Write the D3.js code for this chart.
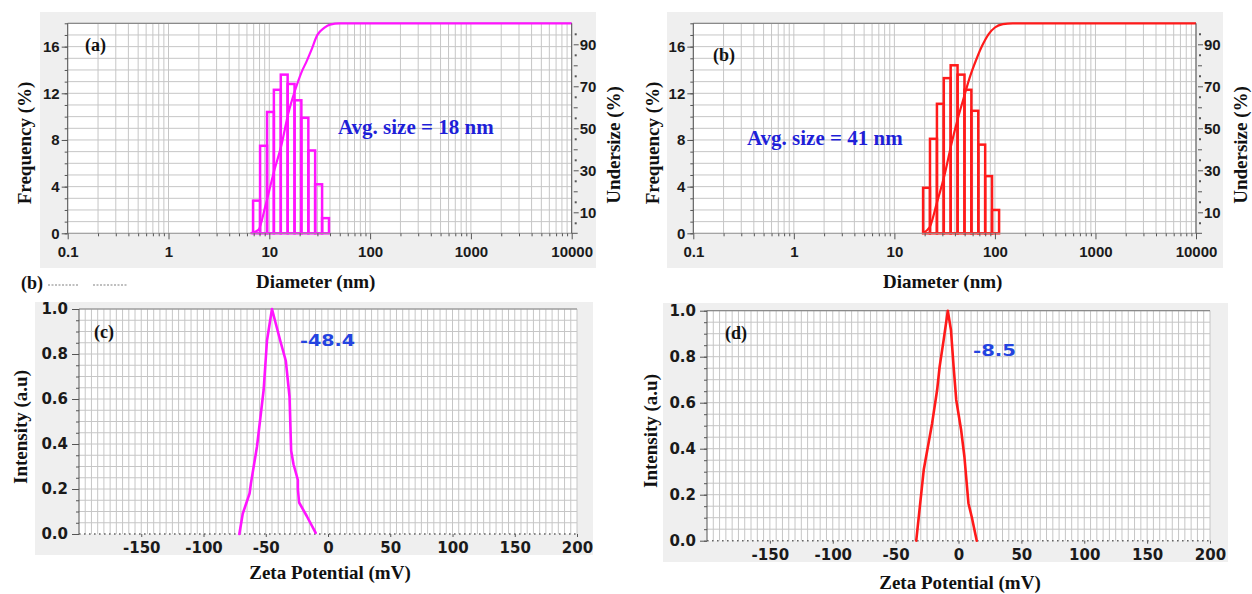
<!DOCTYPE html>
<html>
<head>
<meta charset="utf-8">
<script src="https://cdn.jsdelivr.net/npm/d3@7"></script>
<style>
  body { margin: 0; background: #fff; }
  svg { display: block; }
</style>
</head>
<body>
<svg id="chart" width="1252" height="594"></svg>
<script>
// ---------- Particle size distribution (a) ----------
const binEdgesA = [6.9, 8.1, 9.5, 11.1, 13.0, 15.2, 17.8, 20.8, 24.4, 28.5, 33.4, 39.1];   // nm
const frequencyA = [2.8, 7.5, 10.4, 12.3, 13.6, 12.8, 11.4, 9.9, 7.1, 4.2, 1.3];          // %
const undersizeDiamA = [6.5, 7.8, 9.1, 11.0, 13.3, 15.4, 18.0, 21.0, 23.5, 26.0, 30.0, 35.0, 40.0, 50.0, 10000];
const undersizeA = [0, 1.6, 12.6, 28.5, 42.7, 56.9, 68, 77, 82, 87, 94.5, 97.8, 99.4, 100, 100];

// ---------- Particle size distribution (b) ----------
const binEdgesB = [19.3, 22.6, 26.5, 31.0, 36.3, 42.5, 49.8, 58.3, 68.3, 80.0, 93.6, 110];
const frequencyB = [3.9, 8.1, 11.1, 13.3, 14.4, 13.6, 12.3, 10.5, 7.6, 4.9, 2.0];
const undersizeDiamB = [19.0, 22.5, 26.3, 31.8, 37.0, 43.0, 50.0, 56.0, 65.6, 75, 87, 100, 120, 150, 10000];
const undersizeB = [0, 3, 14, 28.5, 42.7, 55, 66, 74, 83, 89.5, 95, 98, 99.6, 100, 100];

// ---------- Zeta potential (c) ----------
const zetaMvC = [-71.2, -68.5, -63, -61.9, -57, -51.7, -49, -45, -38.4, -33.9, -30.9, -29.6, -27.7, -24.2, -24.2, -23.2, -17.1, -9.9];
const zetaIntC = [0, 0.09, 0.18, 0.225, 0.39, 0.64, 0.86, 1.0, 0.86, 0.77, 0.61, 0.37, 0.31, 0.24, 0.20, 0.14, 0.08, 0.005];

// ---------- Zeta potential (d) ----------
const zetaMvD = [-33.6, -27.6, -21, -17, -15, -11.8, -8.5, -6, -3.9, -1.8, 2.1, 4.7, 7.9, 10.5, 14.5];
const zetaIntD = [0, 0.31, 0.51, 0.655, 0.757, 0.873, 1.0, 0.916, 0.757, 0.612, 0.481, 0.365, 0.163, 0.104, 0];

// ---------- Tick labels ----------
const sizeTicks = [0.1, 1, 10, 100, 1000, 10000];
const freqTicks = [0, 4, 8, 12, 16];
const undersizeTicks = [10, 30, 50, 70, 90];
const zetaTicks = [-150, -100, -50, 0, 50, 100, 150, 200];
const intensityTicks = [0, 0.2, 0.4, 0.6, 0.8, 1.0];

const SERIF = '"Liberation Serif", "Times New Roman", serif';
const ARIAL = '"Liberation Sans", Arial, sans-serif';
const VERD = '"DejaVu Sans", Verdana, sans-serif';
const GRID = '#c6c6c6';
const PANEL_BG = '#efefef';
const AXIS = '#555';

const svg = d3.select('#chart');

function styleAxis(sel, font, size) {
  sel.select('.domain').remove();
  sel.selectAll('.tick line').attr('stroke', AXIS).attr('stroke-width', 1);
  sel.selectAll('.tick text')
    .attr('fill', '#1a1a1a')
    .style('font-family', font)
    .style('font-weight', 'bold')
    .style('font-size', size + 'px');
}

function sizePanel(cfg) {
  const g = svg.append('g');
  const x = d3.scaleLog().domain([0.1, 10000]).range([cfg.x0, cfg.x1]);
  const y = d3.scaleLinear().domain([0, 18]).range([cfg.y0, cfg.y1]);
  const y2 = d3.scaleLinear().domain([0, 100]).range([cfg.y0, cfg.y1]);

  g.append('rect').attr('x', cfg.bg[0]).attr('y', cfg.bg[1])
    .attr('width', cfg.bg[2]).attr('height', cfg.bg[3]).attr('fill', PANEL_BG);
  g.append('rect').attr('x', cfg.x0).attr('y', cfg.y1)
    .attr('width', cfg.x1 - cfg.x0).attr('height', cfg.y0 - cfg.y1).attr('fill', '#fff');

  // log grid
  g.append('g').selectAll('line').data(x.ticks()).join('line')
    .attr('x1', d => x(d)).attr('x2', d => x(d))
    .attr('y1', cfg.y0).attr('y2', cfg.y1)
    .attr('stroke', GRID).attr('stroke-width', 1);
  g.append('g').selectAll('line').data(d3.range(0, 19)).join('line')
    .attr('x1', cfg.x0).attr('x2', cfg.x1)
    .attr('y1', d => y(d)).attr('y2', d => y(d))
    .attr('stroke', GRID).attr('stroke-width', 1);
  g.append('line').attr('x1', cfg.x0).attr('x2', cfg.x1)
    .attr('y1', y(18)).attr('y2', y(18)).attr('stroke', '#8a8a8a').attr('stroke-width', 1.2);

  // frequency histogram
  g.append('g').selectAll('rect').data(cfg.freq).join('rect')
    .attr('x', (d, i) => x(cfg.edges[i]))
    .attr('width', (d, i) => x(cfg.edges[i + 1]) - x(cfg.edges[i]))
    .attr('y', d => y(d))
    .attr('height', d => y(0) - y(d))
    .attr('fill', 'none').attr('stroke', cfg.color).attr('stroke-width', 2.5);

  // cumulative undersize curve
  const pts = cfg.cumD.map((d, i) => [d, cfg.cum[i]]);
  g.append('path').datum(pts)
    .attr('d', d3.line().x(p => x(p[0])).y(p => y2(p[1])).curve(d3.curveMonotoneX))
    .attr('fill', 'none').attr('stroke', cfg.color).attr('stroke-width', 2.2);

  // axes
  g.append('line').attr('x1', cfg.x0).attr('x2', cfg.x1).attr('y1', cfg.y0).attr('y2', cfg.y0)
    .attr('stroke', '#9a9a9a').attr('stroke-width', 1);
  g.append('line').attr('x1', cfg.x0).attr('x2', cfg.x0).attr('y1', cfg.y0).attr('y2', cfg.y1)
    .attr('stroke', AXIS).attr('stroke-width', 1);
  g.append('line').attr('x1', cfg.x1).attr('x2', cfg.x1).attr('y1', cfg.y0).attr('y2', cfg.y1)
    .attr('stroke', AXIS).attr('stroke-width', 1);

  const minorX = x.ticks().filter(d => !sizeTicks.includes(d));
  const ax1 = g.append('g').attr('transform', `translate(0,${cfg.y0})`)
    .call(d3.axisBottom(x).tickValues(minorX).tickSize(3).tickFormat(''));
  styleAxis(ax1, ARIAL, 15);
  const ax2 = g.append('g').attr('transform', `translate(0,${cfg.y0})`)
    .call(d3.axisBottom(x).tickValues(sizeTicks).tickSize(6).tickPadding(7).tickFormat(d3.format('~g')));
  styleAxis(ax2, ARIAL, 15);

  const ay1 = g.append('g').attr('transform', `translate(${cfg.x0},0)`)
    .call(d3.axisLeft(y).tickValues(d3.range(0, 19)).tickSize(3).tickFormat(''));
  styleAxis(ay1, ARIAL, 15);
  const ay2 = g.append('g').attr('transform', `translate(${cfg.x0},0)`)
    .call(d3.axisLeft(y).tickValues(freqTicks).tickSize(6).tickPadding(2).tickFormat(d3.format('d')));
  styleAxis(ay2, ARIAL, 15);

  const ar1 = g.append('g').attr('transform', `translate(${cfg.x1},0)`)
    .call(d3.axisRight(y2).tickValues(d3.range(5, 100, 10)).tickSize(2).tickFormat(''));
  styleAxis(ar1, ARIAL, 15);
  ar1.selectAll('.tick line').attr('stroke-width', 2).attr('x1', 3).attr('x2', 5);
  const ar2 = g.append('g').attr('transform', `translate(${cfg.x1},0)`)
    .call(d3.axisRight(y2).tickValues([20, 40, 60, 80]).tickSize(6).tickFormat(''));
  styleAxis(ar2, ARIAL, 15);
  ar2.selectAll('.tick line').attr('x1', 2);
  const ar3 = g.append('g').attr('transform', `translate(${cfg.x1},0)`)
    .call(d3.axisRight(y2).tickValues(undersizeTicks).tickSize(7).tickPadding(1).tickFormat(d3.format('d')));
  styleAxis(ar3, ARIAL, 15);
  ar3.selectAll('.tick line').attr('x1', 2);
  g.append('line').attr('x1', cfg.x1).attr('x2', cfg.x1 + 6).attr('y1', cfg.y0).attr('y2', cfg.y0)
    .attr('stroke', AXIS);

  // titles and annotations
  g.append('text').attr('x', (cfg.x0 + cfg.x1) / 2 + cfg.titleDx).attr('y', 288)
    .attr('text-anchor', 'middle').style('font-family', SERIF).style('font-weight', 'bold')
    .style('font-size', '19px').attr('fill', '#111').text('Diameter (nm)');
  g.append('text').attr('transform', `translate(${cfg.x0 - cfg.leftTitle},143) rotate(-90)`)
    .attr('text-anchor', 'middle').attr('dy', '0.35em').style('font-family', SERIF).style('font-weight', 'bold')
    .style('font-size', '19px').attr('fill', '#111').text('Frequency (%)');
  g.append('text').attr('transform', `translate(${cfg.x1 + cfg.rightTitle},145) rotate(-90)`)
    .attr('text-anchor', 'middle').attr('dy', '0.35em').style('font-family', SERIF).style('font-weight', 'bold')
    .style('font-size', '19px').attr('fill', '#111').text('Undersize (%)');
  g.append('text').attr('x', cfg.tag[0]).attr('y', cfg.tag[1])
    .style('font-family', SERIF).style('font-weight', 'bold').style('font-size', '18px')
    .attr('fill', '#111').text(cfg.tagText);
  g.append('text').attr('x', cfg.avg[0]).attr('y', cfg.avg[1])
    .style('font-family', SERIF).style('font-weight', 'bold').style('font-size', '21px')
    .attr('fill', '#1f1fd8').text(cfg.avgText);
}

function zetaPanel(cfg) {
  const g = svg.append('g');
  const x = d3.scaleLinear().domain([-200, 200]).range([cfg.x0, cfg.x1]);
  const y = d3.scaleLinear().domain([0, 1]).range([cfg.y0, cfg.y1]);

  g.append('rect').attr('x', cfg.bg[0]).attr('y', cfg.bg[1])
    .attr('width', cfg.bg[2]).attr('height', cfg.bg[3]).attr('fill', PANEL_BG);
  g.append('rect').attr('x', cfg.x0).attr('y', cfg.y1)
    .attr('width', cfg.x1 - cfg.x0).attr('height', cfg.y0 - cfg.y1).attr('fill', '#fff');

  g.append('g').selectAll('line').data(d3.range(-195, 201, 5)).join('line')
    .attr('x1', d => x(d)).attr('x2', d => x(d))
    .attr('y1', cfg.y0).attr('y2', cfg.y1)
    .attr('stroke', GRID).attr('stroke-width', 1);
  g.append('g').selectAll('line').data(d3.range(1, 21).map(i => i * 0.05)).join('line')
    .attr('x1', cfg.x0).attr('x2', cfg.x1)
    .attr('y1', d => y(d)).attr('y2', d => y(d))
    .attr('stroke', GRID).attr('stroke-width', 1);
  g.append('line').attr('x1', cfg.x0).attr('x2', cfg.x1)
    .attr('y1', y(1)).attr('y2', y(1)).attr('stroke', '#8a8a8a').attr('stroke-width', 1.2);

  // dotted zero line
  g.append('line').attr('x1', cfg.x0).attr('x2', cfg.x1).attr('y1', y(0)).attr('y2', y(0))
    .attr('stroke', '#666').attr('stroke-width', 1.6).attr('stroke-dasharray', '1.6,3.4');

  const pts = cfg.mv.map((d, i) => [d, cfg.val[i]]);
  g.append('path').datum(pts)
    .attr('d', d3.line().x(p => x(p[0])).y(p => y(p[1])))
    .attr('fill', 'none').attr('stroke', cfg.color).attr('stroke-width', 2.6)
    .attr('stroke-linejoin', 'round').attr('stroke-linecap', 'round');

  g.append('line').attr('x1', cfg.x0).attr('x2', cfg.x0).attr('y1', cfg.y0).attr('y2', cfg.y1)
    .attr('stroke', AXIS).attr('stroke-width', 1);

  const ay1 = g.append('g').attr('transform', `translate(${cfg.x0},0)`)
    .call(d3.axisLeft(y).tickValues(d3.range(0, 21).map(i => i * 0.05)).tickSize(3).tickFormat(''));
  styleAxis(ay1, VERD, 15);
  const ay2 = g.append('g').attr('transform', `translate(${cfg.x0},0)`)
    .call(d3.axisLeft(y).tickValues(intensityTicks).tickSize(7).tickPadding(4).tickFormat(d3.format('.1f')));
  styleAxis(ay2, VERD, 15);

  const ax = g.append('g').attr('transform', `translate(0,${cfg.y0})`)
    .call(d3.axisBottom(x).tickValues(zetaTicks).tickSize(3).tickPadding(cfg.xPad).tickFormat(d3.format('d')));
  styleAxis(ax, VERD, 15);
  ax.selectAll('.tick text').text(d => d < 0 ? '-' + Math.abs(d) : d);

  g.append('text').attr('x', cfg.title[0]).attr('y', cfg.title[1])
    .attr('text-anchor', 'middle').style('font-family', SERIF).style('font-weight', 'bold')
    .style('font-size', '19px').attr('fill', '#111').text('Zeta Potential (mV)');
  g.append('text').attr('transform', `translate(${cfg.ytitle[0]},${cfg.ytitle[1]}) rotate(-90)`)
    .attr('text-anchor', 'middle').attr('dy', '0.35em').style('font-family', SERIF).style('font-weight', 'bold')
    .style('font-size', '19px').attr('fill', '#111').text('Intensity (a.u)');
  g.append('text').attr('x', cfg.tag[0]).attr('y', cfg.tag[1])
    .style('font-family', SERIF).style('font-weight', 'bold').style('font-size', '18px')
    .attr('fill', '#111').text(cfg.tagText);
  g.append('text').attr('x', cfg.peak[0]).attr('y', cfg.peak[1])
    .attr('textLength', cfg.peak[2]).attr('lengthAdjust', 'spacingAndGlyphs')
    .style('font-family', VERD).style('font-weight', 'bold').style('font-size', '15px')
    .attr('fill', '#2444e0').text(cfg.peakText);
}

sizePanel({
  x0: 67.7, x1: 571.7, y0: 233.3, y1: 23.3, bg: [40, 12, 556, 256],
  edges: binEdgesA, freq: frequencyA, cumD: undersizeDiamA, cum: undersizeA,
  color: '#ff14ff', tag: [85, 51], tagText: '(a)',
  avg: [338, 134], avgText: 'Avg. size = 18 nm', titleDx: -4, leftTitle: 43, rightTitle: 42
});
sizePanel({
  x0: 693.3, x1: 1196, y0: 233.3, y1: 23.3, bg: [667, 12, 556, 256],
  edges: binEdgesB, freq: frequencyB, cumD: undersizeDiamB, cum: undersizeB,
  color: '#ff1a1a', tag: [713, 61], tagText: '(b)',
  avg: [747, 145], avgText: 'Avg. size = 41 nm', titleDx: -2, leftTitle: 41, rightTitle: 44
});
zetaPanel({
  x0: 79, x1: 577, y0: 534, y1: 309, bg: [35, 302, 558, 253],
  mv: zetaMvC, val: zetaIntC, color: '#ff14ff', xPad: 5,
  title: [330, 579], ytitle: [20, 427], tag: [94, 338], tagText: '(c)',
  peak: [300, 346, 55], peakText: '-48.4'
});
zetaPanel({
  x0: 707, x1: 1210, y0: 540.7, y1: 310.7, bg: [663, 303, 565, 259],
  mv: zetaMvD, val: zetaIntD, color: '#ff1a1a', xPad: 6,
  title: [960, 589], ytitle: [650, 431], tag: [725, 339], tagText: '(d)',
  peak: [973, 356, 43], peakText: '-8.5'
});

// stray caption fragment between the upper and lower rows
svg.append('text').attr('x', 21).attr('y', 289)
  .style('font-family', SERIF).style('font-weight', 'bold').style('font-size', '18px')
  .attr('fill', '#111').text('(b)');
svg.append('g').selectAll('line').data([[48, 78], [93, 127]]).join('line')
  .attr('x1', d => d[0]).attr('x2', d => d[1]).attr('y1', 285).attr('y2', 285)
  .attr('stroke', '#aaa').attr('stroke-width', 1.5).attr('stroke-dasharray', '2,1.5');
</script>
</body>
</html>
